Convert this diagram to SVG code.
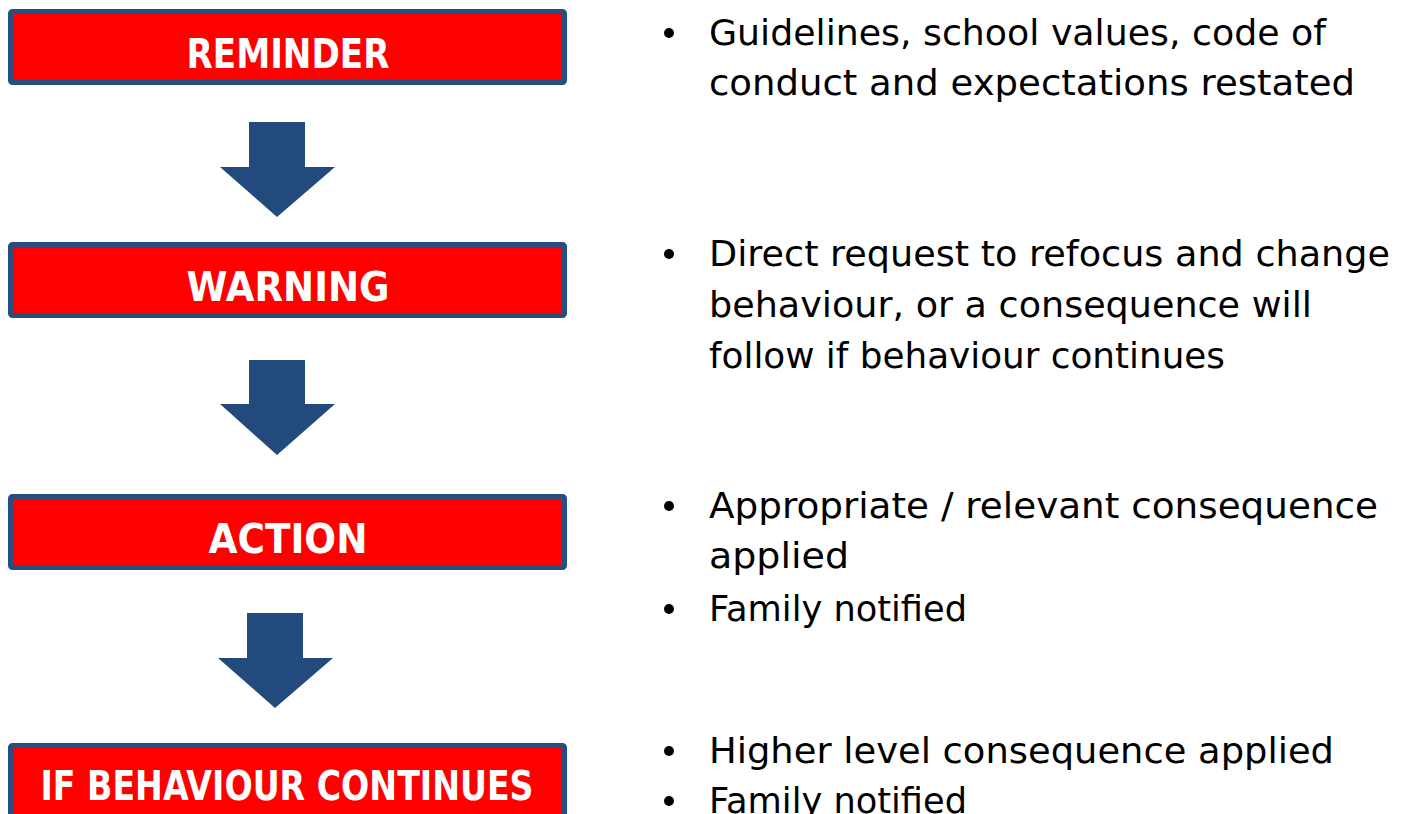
<svg xmlns="http://www.w3.org/2000/svg" width="1406" height="814" viewBox="0 0 1406 814">
  <style>
    .box { fill: #FF0000; stroke: #264F80; stroke-width: 5; }
    .lbl { fill: #FFFFFF; font-family: "DejaVu Sans", "Liberation Sans", sans-serif; font-weight: bold; font-size: 40px; text-anchor: middle; }
    .arrow { fill: #224A7C; }
    .txt { fill: #000000; font-family: "DejaVu Sans", "Liberation Sans", sans-serif; font-size: 35px; }
    .dot { fill: #000000; }
  </style>
  <rect width="1406" height="814" fill="#FFFFFF"/>

  <g id="node-reminder">
    <rect class="box" x="10.5" y="11.5" width="554" height="71" rx="2"/>
    <text class="lbl" x="288" y="68" textLength="203" lengthAdjust="spacingAndGlyphs">REMINDER</text>
  </g>
  <g id="node-warning">
    <rect class="box" x="10.5" y="244.5" width="554" height="71" rx="2"/>
    <text class="lbl" x="288" y="301" textLength="203" lengthAdjust="spacingAndGlyphs">WARNING</text>
  </g>
  <g id="node-action">
    <rect class="box" x="10.5" y="496.5" width="554" height="71" rx="2"/>
    <text class="lbl" x="288" y="553" textLength="159" lengthAdjust="spacingAndGlyphs">ACTION</text>
  </g>
  <g id="node-continues">
    <rect class="box" x="10.5" y="745.5" width="554" height="80" rx="2"/>
    <text class="lbl" x="287" y="800" textLength="493" lengthAdjust="spacingAndGlyphs">IF BEHAVIOUR CONTINUES</text>
  </g>

  <g id="connectors">
    <polygon class="arrow" points="249,122 305,122 305,167 335,167 277,217 220,167 249,167"/>
    <polygon class="arrow" points="249,360 305,360 305,404 335,404 277,455 220,404 249,404"/>
    <polygon class="arrow" points="247,613 303,613 303,658 333,658 275,708 218,658 247,658"/>
  </g>

  <g id="notes-reminder">
    <circle class="dot" cx="669" cy="33" r="5"/>
    <text class="txt" x="709" y="45" textLength="617" lengthAdjust="spacingAndGlyphs">Guidelines, school values, code of</text>
    <text class="txt" x="709" y="95" textLength="646" lengthAdjust="spacingAndGlyphs">conduct and expectations restated</text>
  </g>
  <g id="notes-warning">
    <circle class="dot" cx="669" cy="254" r="5"/>
    <text class="txt" x="709" y="266" textLength="681" lengthAdjust="spacingAndGlyphs">Direct request to refocus and change</text>
    <text class="txt" x="709" y="317" textLength="603" lengthAdjust="spacingAndGlyphs">behaviour, or a consequence will</text>
    <text class="txt" x="709" y="368" textLength="516" lengthAdjust="spacingAndGlyphs">follow if behaviour continues</text>
  </g>
  <g id="notes-action">
    <circle class="dot" cx="669" cy="506" r="5"/>
    <text class="txt" x="709" y="518" textLength="669" lengthAdjust="spacingAndGlyphs">Appropriate / relevant consequence</text>
    <text class="txt" x="709" y="568" textLength="140" lengthAdjust="spacingAndGlyphs">applied</text>
    <circle class="dot" cx="669" cy="609" r="5"/>
    <text class="txt" x="709" y="621" textLength="258" lengthAdjust="spacingAndGlyphs">Family notified</text>
  </g>
  <g id="notes-continues">
    <circle class="dot" cx="669" cy="751" r="5"/>
    <text class="txt" x="709" y="763" textLength="625" lengthAdjust="spacingAndGlyphs">Higher level consequence applied</text>
    <circle class="dot" cx="669" cy="801" r="5"/>
    <text class="txt" x="709" y="813" textLength="258" lengthAdjust="spacingAndGlyphs">Family notified</text>
  </g>
</svg>
